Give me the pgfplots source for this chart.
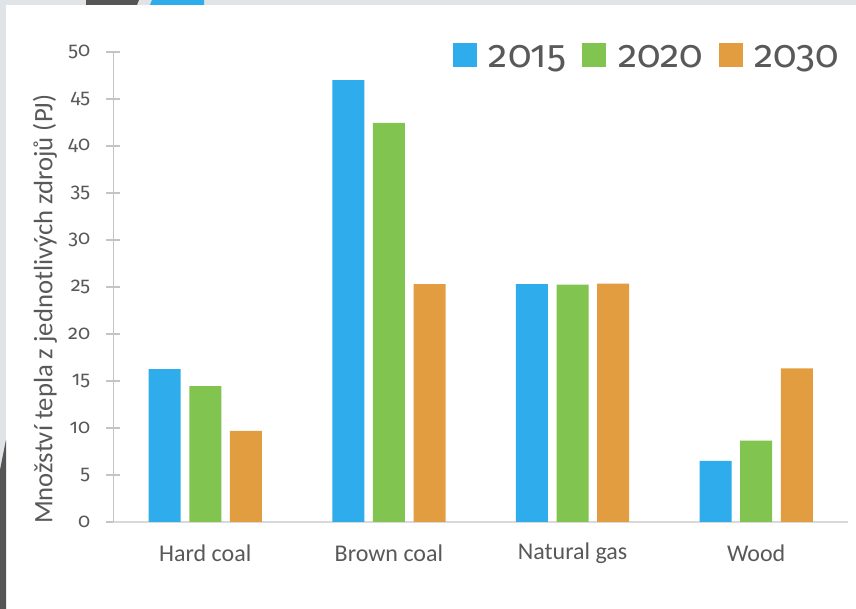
\documentclass[border=0pt]{standalone}
\usepackage{pgfplots}
\pgfplotsset{compat=1.18}
\usepackage{fontspec}
\setmainfont{Carlito}
\newfontfamily\numfont{Fira Sans}[Numbers=OldStyle]
\definecolor{cblue}{HTML}{2FACEB}
\definecolor{cgreen}{HTML}{82C450}
\definecolor{corange}{HTML}{E29D40}
\definecolor{ctext}{HTML}{595959}
\definecolor{caxis}{HTML}{C4C4C4}
\definecolor{cxaxis}{HTML}{D9D9D9}
\definecolor{cframe}{HTML}{E1E4E6}
\definecolor{cdark}{HTML}{555555}
\pgfplotsset{sqlegend/.style={legend image code/.code={\fill[##1] (0pt,-7pt) rectangle (18pt,11pt);}}}
\begin{document}
\begin{tikzpicture}
\useasboundingbox (0pt,0pt) rectangle (642pt,456.75pt);
\begin{scope}[shift={(0pt,456.75pt)}, x=0.75pt, y=-0.75pt]
  \fill[cframe] (0,0) rectangle (856,609);
  \fill[white] (6,5) rectangle (856,609);
  \fill[cdark] (86,0) -- (139,0) -- (137,5) -- (86,5) -- cycle;
  \fill[cblue] (152,0) -- (204,0) -- (204,5) -- (150,5) -- cycle;
  \fill[cdark] (0,470) -- (6,440) -- (6,609) -- (0,609) -- cycle;
\end{scope}
\begin{axis}[
  at={(85.1pt,65.25pt)}, anchor=south west,
  scale only axis, width=550.9pt, height=352.5pt,
  xmin=-0.5, xmax=3.5, ymin=0, ymax=50,
  ybar=6.5pt, bar width=24pt,
  xtick={0,1,2,3}, xticklabels={Hard coal,Brown coal,Natural gas,Wood},
  ytick={0,5,10,15,20,25,30,35,40,45,50},
  yticklabels={0,5,10,15,20,25,30,35,40,45,50},
  axis lines=left, axis line style={-},
  x axis line style={draw=cxaxis, line width=1.2pt},
  y axis line style={draw=caxis, line width=1.2pt},
  xtick style={draw=none},
  ytick style={draw=caxis, line width=1.2pt},
  tick align=center, major tick length=10.5pt,
  ticklabel style={text=ctext},
  yticklabel style={font=\numfont\fontsize{15}{18}\selectfont, anchor=east, inner sep=0pt, xshift=-12pt},
  xticklabel style={font=\fontsize{18}{20}\selectfont, anchor=center, yshift=-18pt},
  ylabel={Množství tepla z jednotlivých zdrojů (PJ)},
  ylabel style={font=\fontsize{20}{24}\selectfont, text=ctext, at={(axis description cs:-0.0933,0.453)}, anchor=center},
  legend columns=3,
  legend style={draw=none, fill=none, at={(axis description cs:0.9875,0.9915)}, anchor=east, inner sep=0pt, outer sep=0pt,
    nodes={inner sep=0pt},
    font=\numfont\fontsize{29}{32}\selectfont, text=ctext,
    /tikz/every odd column/.append style={column sep=9pt},
    /tikz/every even column/.append style={column sep=12pt}},
]
\addplot[fill=cblue, draw=none, sqlegend] coordinates {(0,16.25) (1,47.0) (2,25.3) (3,6.5)};
\addplot[fill=cgreen, draw=none, sqlegend] coordinates {(0,14.45) (1,42.45) (2,25.25) (3,8.65)};
\addplot[fill=corange, draw=none, sqlegend] coordinates {(0,9.7) (1,25.3) (2,25.35) (3,16.35)};
\legend{2015,2020,2030}
\draw[cxaxis, line width=1.2pt] (rel axis cs:0,0) -- ++(-5.25pt,0pt);
\end{axis}
\end{tikzpicture}
\end{document}
